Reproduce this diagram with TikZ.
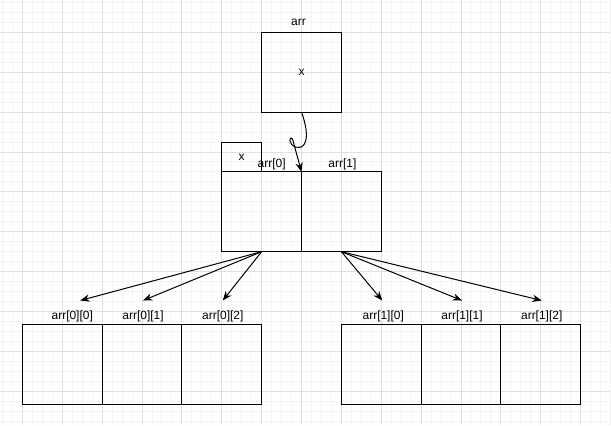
\documentclass[tikz,border=0pt]{standalone}
\usepackage{fontspec}
\setmainfont{Liberation Sans}
\usetikzlibrary{arrows.meta, positioning}
\definecolor{gridmajor}{HTML}{E0E0E0}
\definecolor{gridminor}{HTML}{F4F4F4}

\begin{document}
\begin{tikzpicture}[
x=0.75pt, y=-0.75pt,
every node/.style={font=\fontsize{9}{11}\selectfont, inner sep=0pt},
arrow/.style={-{Stealth[length=7pt, width=5.5pt]}, line width=0.75pt}
]

% Define styles
\tikzstyle{cell} = [rectangle, draw=black, line width=0.75pt, minimum width=60pt, minimum height=60pt, outer sep=0pt]
\tikzstyle{tag} = [rectangle, draw=black, line width=0.75pt, minimum width=30pt, minimum height=22.5pt, outer sep=0pt]
\tikzstyle{cellname} = [text=black]

% Background grid
\fill[white] (0,0) rectangle (611,426);
\foreach \i in {2,12,...,612} \draw[gridminor, line width=0.75pt] (\i,0) -- (\i,426);
\foreach \i in {2,12,...,422} \draw[gridminor, line width=0.75pt] (0,\i) -- (611,\i);
\foreach \i in {22,62,...,602} \draw[gridmajor, line width=0.75pt] (\i,0) -- (\i,426);
\foreach \i in {32,72,...,422} \draw[gridmajor, line width=0.75pt] (0,\i) -- (611,\i);
\useasboundingbox (0,0) rectangle (611,426);

% Nodes
\node (arr) [cell] at (302,72) {x};
\node (arrname) [cellname] at (299,22) {arr};

\node (a0) [cell] at (262,212) {};
\node (a1) [cell, right=0pt of a0] {};
\node (tagx) [tag, above right=0pt of a0.north west] {x};
\node (a0name) [cellname] at (272,164) {arr[0]};
\node (a1name) [cellname] at (343,164) {arr[1]};

\node (a00) [cell] at (62,365) {};
\node (a01) [cell, right=0pt of a00] {};
\node (a02) [cell, right=0pt of a01] {};
\node (a10) [cell] at (382,365) {};
\node (a11) [cell, right=0pt of a10] {};
\node (a12) [cell, right=0pt of a11] {};

\node (a00name) [cellname] at (72,317) {arr[0][0]};
\node (a01name) [cellname] at (143,317) {arr[0][1]};
\node (a02name) [cellname] at (223,317) {arr[0][2]};
\node (a10name) [cellname] at (384,317) {arr[1][0]};
\node (a11name) [cellname] at (463,317) {arr[1][1]};
\node (a12name) [cellname] at (543,317) {arr[1][2]};

% Arrow ends
\coordinate (t00) at (80,301);
\coordinate (t01) at (143,301);
\coordinate (t02) at (223,301);
\coordinate (t10) at (383,301);
\coordinate (t11) at (463,301);
\coordinate (t12) at (543,301);

% Arrows
\draw [arrow] (arr.south) .. controls (312,140) and (305,150) .. (296,147) .. controls (289,145) and (289,135) .. (293,139) -- (a1.north west);
\draw [arrow] (a0.south) -- (t00);
\draw [arrow] (a0.south) -- (t01);
\draw [arrow] (a0.south) -- (t02);
\draw [arrow] (a1.south) -- (t10);
\draw [arrow] (a1.south) -- (t11);
\draw [arrow] (a1.south) -- (t12);

\end{tikzpicture}
\end{document}
